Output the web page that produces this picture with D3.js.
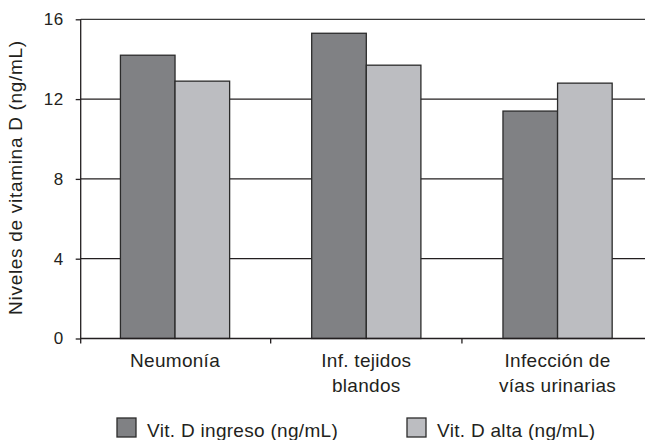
<!DOCTYPE html>
<html><head><meta charset="utf-8">
<script src="https://cdn.jsdelivr.net/npm/d3@7"></script>
<style>body{margin:0;background:#fff}svg{display:block}text{font-family:"Liberation Sans",Arial,Helvetica,sans-serif;fill:#231f20}</style>
</head><body><svg id="c" width="645" height="440"></svg>
<script>
const categories = [["Neumonía"], ["Inf. tejidos", "blandos"], ["Infección de", "vías urinarias"]];
const seriesNames = ["Vit. D ingreso (ng/mL)", "Vit. D alta (ng/mL)"];
const ingreso = [14.2, 15.3, 11.4];
const alta = [12.9, 13.7, 12.8];
const yTicks = [0, 4, 8, 12, 16];
const colors = ["#808184", "#bcbdc1"];

const svg = d3.select("#c");
const x0 = 80.7, x1 = 645, yTop = 19.3, yBot = 338.5;
const x = d3.scaleBand().domain(d3.range(categories.length)).range([79.4, 653.2]);
const xs = d3.scaleBand().domain([0,1]).range([0, 109.2]);
const y = d3.scaleLinear().domain([0, 16]).range([yBot, yTop]);
const ink = "#231f20";

// gridlines
svg.append("g").selectAll("line").data(yTicks.filter(d=>d>0)).join("line")
  .attr("x1", x0).attr("x2", x1).attr("y1", d=>y(d)).attr("y2", d=>y(d))
  .attr("stroke", (d)=> d===16 ? "#3a3a3a" : ink).attr("stroke-width", 1.3);

// bars
const series = [ingreso, alta];
const g = svg.append("g");
series.forEach((vals, si) => {
  g.selectAll(null).data(vals).join("rect")
    .attr("x", (d,i)=> x(i) + x.bandwidth()/2 - xs.step() + xs(si))
    .attr("y", d=>y(d)).attr("width", xs.bandwidth()).attr("height", d=>yBot - y(d))
    .attr("fill", colors[si]).attr("stroke", "#2b2b2b").attr("stroke-width", 1.3);
});

// y axis
const yAxis = d3.axisLeft(y).tickValues(yTicks).tickSize(5).tickPadding(12);
const ya = svg.append("g").attr("transform", `translate(${x0},0)`).call(yAxis);
ya.select(".domain").attr("d", `M0,${yTop}V${yBot+5}`).attr("stroke",ink).attr("stroke-width",1.3);
ya.selectAll(".tick line").attr("stroke",ink).attr("stroke-width",1.3);
ya.selectAll(".tick text").attr("font-size", 17).attr("letter-spacing", 0.5)
  .attr("font-family","Liberation Sans, Arial, sans-serif").attr("fill",ink);

// x axis
svg.append("line").attr("x1", x0).attr("x2", x1).attr("y1", yBot).attr("y2", yBot).attr("stroke",ink).attr("stroke-width",1.3);
svg.append("g").selectAll("line").data([1,2]).join("line")
  .attr("x1", d=>x(d)).attr("x2", d=>x(d)).attr("y1", yBot).attr("y2", yBot+5)
  .attr("stroke",ink).attr("stroke-width",1.3);

// category labels
const cl = svg.append("g").selectAll("text").data(categories).join("text")
  .attr("text-anchor","middle").attr("font-size",19).attr("letter-spacing",0.3)
  .attr("transform", (d,i)=>`translate(${x(i)+x.bandwidth()/2},367.3)`);
cl.selectAll("tspan").data(d=>d).join("tspan").attr("x",0).attr("dy",(d,j)=>j?24.4:0).text(d=>d);

// y label
svg.append("text").attr("transform","translate(22,177.5) rotate(-90)").attr("text-anchor","middle")
  .attr("font-size",19).attr("letter-spacing",0.7).text("Niveles de vitamina D (ng/mL)");

// legend
const lx = [117, 407];
const lg = svg.append("g").selectAll("g").data(seriesNames).join("g")
  .attr("transform",(d,i)=>`translate(${lx[i]},418)`);
lg.append("rect").attr("width",19).attr("height",19).attr("fill",(d,i)=>colors[i]).attr("stroke","#2b2b2b").attr("stroke-width",1.3);
lg.append("text").attr("x",30).attr("y",18.5).attr("font-size",19).attr("letter-spacing",0.3).text(d=>d);
</script></body></html>
